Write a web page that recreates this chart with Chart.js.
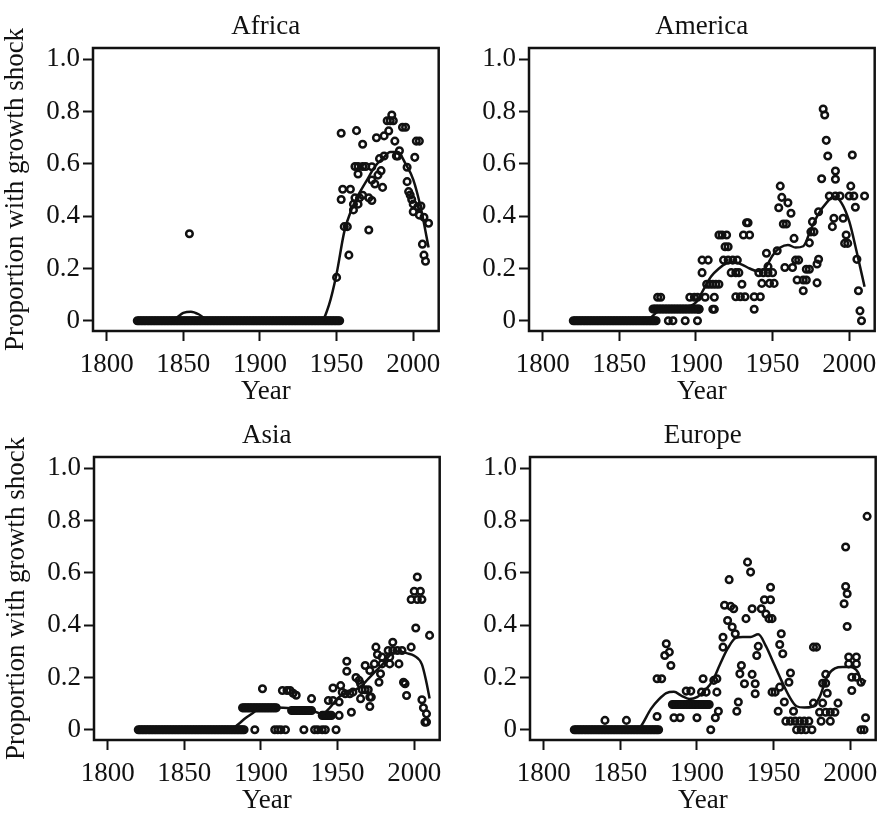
<!DOCTYPE html>
<html>
<head>
<meta charset="utf-8">
<script src="https://cdn.jsdelivr.net/npm/chart.js@4/dist/chart.umd.min.js"></script>
<style>
  html, body { margin: 0; padding: 0; background: #fff; }
  #wrap { position: relative; width: 885px; height: 813px; overflow: hidden; }
  .panel { position: absolute; }
</style>
</head>
<body>
<div id="wrap">
  <div class="panel" style="left:0;top:0"><canvas id="africaChart" width="449" height="408"></canvas></div>
  <div class="panel" style="left:436px;top:0"><canvas id="americaChart" width="449" height="408"></canvas></div>
  <div class="panel" style="left:1px;top:409px"><canvas id="asiaChart" width="449" height="408"></canvas></div>
  <div class="panel" style="left:437px;top:409px"><canvas id="europeChart" width="449" height="408"></canvas></div>
</div>
<script>
// Tick labels
const yearTicks = [1800, 1850, 1900, 1950, 2000];
const shareTicks = [0, 0.2, 0.4, 0.6, 0.8, 1.0];

// Africa: runs of identical yearly values [from, to, share], then single points
const africaRuns = [[1820, 1952, 0]];
const africaYears = [1854, 1950, 1953, 1963, 1967, 1976, 1981, 1984, 1986, 1983, 1985, 1987, 1988, 1993, 1995, 1991,
  2002, 2004, 2001, 1989, 1990, 1978, 1981, 1973, 1979, 1977, 1973, 1975, 1980, 1962, 1964, 1967, 1969, 1964,
  1954, 1959, 1953, 1962, 1965, 1967, 1971, 1973, 1961, 1964, 1961, 1971, 1955, 1957, 1958,
  1996, 1996, 1997, 1998, 1999, 2000, 2000, 2003, 2005, 2004, 2007, 2010, 2006, 2007, 2008];
const africaShares = [0.333, 0.166, 0.717, 0.727, 0.675, 0.70, 0.707, 0.726, 0.787, 0.765, 0.765, 0.765, 0.687, 0.74, 0.74, 0.65,
  0.687, 0.687, 0.625, 0.63, 0.63, 0.62, 0.63, 0.589, 0.574, 0.557, 0.538, 0.523, 0.51, 0.59, 0.59, 0.59, 0.59, 0.561,
  0.503, 0.503, 0.464, 0.47, 0.47, 0.48, 0.47, 0.46, 0.446, 0.446, 0.424, 0.347, 0.36, 0.36, 0.251,
  0.587, 0.532, 0.494, 0.481, 0.464, 0.446, 0.417, 0.436, 0.439, 0.404, 0.396, 0.373, 0.293, 0.251, 0.228];
const africaFitYears = [1820, 1840, 1845, 1850, 1855, 1860, 1865, 1870, 1940, 1945, 1950, 1955, 1960, 1965, 1970, 1975, 1980, 1985, 1990, 1995, 2000, 2005, 2010];
const africaFitShares = [0, 0, 0.01, 0.03, 0.035, 0.025, 0.005, 0, 0, 0.06, 0.18, 0.34, 0.43, 0.49, 0.54, 0.59, 0.62, 0.645, 0.645, 0.6, 0.54, 0.43, 0.28];

// America
const americaRuns = [[1820, 1874, 0], [1872, 1902, 0.045]];
const americaYears = [1875, 1877, 1882, 1885, 1893, 1901, 1896, 1899, 1901, 1902, 1911, 1912, 1938, 1906, 1912,
  1907, 1909, 1911, 1913, 1915, 1904, 1904, 1908, 1915, 1917, 1920, 1919, 1921, 1918, 1921, 1924, 1927,
  1923, 1926, 1928, 1930, 1926, 1929, 1932, 1938, 1942, 1931, 1935, 1933, 1934, 1941, 1944, 1947, 1950,
  1943, 1948, 1951, 1946, 1947, 1953, 1955, 1956, 1954, 1960, 1962, 1957, 1959, 1958, 1963, 1964, 1965, 1967,
  1966, 1970, 1972, 1970, 1972, 1974, 1974, 1975, 1977, 1976, 1980, 1979, 1979, 1980, 1983, 1984, 1985, 1986,
  1982, 1991, 1991, 1987, 1991, 1994, 1990, 1996, 1989, 1998, 1997, 1999, 2001, 2002, 2000, 2003, 2010,
  2004, 2005, 2006, 2007, 2008];
const americaShares = [0.09, 0.09, 0, 0, 0, 0, 0.09, 0.09, 0.09, 0.044, 0.044, 0.044, 0.044, 0.09, 0.09,
  0.14, 0.14, 0.14, 0.14, 0.14, 0.184, 0.232, 0.232, 0.328, 0.328, 0.328, 0.283, 0.283, 0.232, 0.232, 0.232, 0.232,
  0.184, 0.184, 0.184, 0.14, 0.092, 0.092, 0.092, 0.092, 0.092, 0.328, 0.328, 0.375, 0.375, 0.184, 0.184, 0.184, 0.184,
  0.143, 0.143, 0.143, 0.258, 0.207, 0.268, 0.515, 0.472, 0.432, 0.451, 0.411, 0.37, 0.37, 0.204, 0.204, 0.315, 0.232, 0.232,
  0.156, 0.156, 0.156, 0.115, 0.197, 0.197, 0.298, 0.34, 0.34, 0.379, 0.417, 0.217, 0.145, 0.235, 0.81, 0.787, 0.69, 0.63,
  0.543, 0.573, 0.541, 0.477, 0.477, 0.477, 0.392, 0.392, 0.36, 0.328, 0.296, 0.296, 0.515, 0.634, 0.477, 0.477, 0.477,
  0.434, 0.235, 0.115, 0.038, 0];
const americaFitYears = [1820, 1865, 1870, 1875, 1880, 1890, 1900, 1905, 1910, 1915, 1920, 1925, 1930, 1935, 1940, 1945, 1950, 1955, 1960, 1965, 1970, 1975, 1980, 1985, 1990, 1995, 2000, 2005, 2010];
const americaFitShares = [0, 0, 0.01, 0.035, 0.045, 0.05, 0.07, 0.12, 0.17, 0.2, 0.22, 0.225, 0.215, 0.2, 0.19, 0.2, 0.25, 0.28, 0.29, 0.28, 0.285, 0.35, 0.41, 0.45, 0.475, 0.45, 0.38, 0.26, 0.13];

// Asia
const asiaRuns = [[1820, 1889, 0], [1888, 1910, 0.084], [1920, 1933, 0.074], [1940, 1946, 0.055]];
const asiaYears = [1896, 1909, 1911, 1913, 1916, 1928, 1935, 1937, 1940, 1942, 1949, 1901, 1914, 1917, 1919, 1921, 1923,
  1933, 1944, 1947, 1947, 1952, 1953, 1955, 1958, 1960, 1951, 1951, 1956, 1956, 1959, 1962, 1964, 1965, 1965,
  1966, 1968, 1970, 1971, 1972, 1971, 1968, 1971, 1974, 1979, 1984, 1990, 1976, 1975, 1979, 1984, 1978, 1977,
  1983, 1986, 1989, 1992, 1986, 1998, 2002, 2000, 2004, 1998, 2002, 2005, 2001, 2010,
  2005, 2006, 2008, 2007, 2008, 1994, 1993, 1995];
const asiaShares = [0, 0, 0, 0, 0, 0, 0, 0, 0, 0, 0, 0.157, 0.15, 0.15, 0.15, 0.14, 0.132,
  0.119, 0.112, 0.112, 0.16, 0.169, 0.144, 0.138, 0.138, 0.144, 0.106, 0.055, 0.262, 0.224, 0.067, 0.2, 0.189, 0.176, 0.119,
  0.153, 0.153, 0.153, 0.125, 0.125, 0.089, 0.246, 0.227, 0.252, 0.252, 0.252, 0.252, 0.288, 0.316, 0.278, 0.278, 0.214, 0.182,
  0.303, 0.303, 0.303, 0.303, 0.335, 0.316, 0.584, 0.53, 0.53, 0.498, 0.498, 0.498, 0.389, 0.361,
  0.115, 0.084, 0.061, 0.029, 0.03, 0.176, 0.182, 0.131];
const asiaFitYears = [1820, 1880, 1885, 1890, 1895, 1900, 1910, 1920, 1930, 1935, 1940, 1945, 1950, 1955, 1960, 1965, 1970, 1975, 1980, 1985, 1990, 1995, 2000, 2005, 2008, 2010];
const asiaFitShares = [0, 0, 0.02, 0.045, 0.065, 0.085, 0.085, 0.082, 0.075, 0.07, 0.06, 0.085, 0.12, 0.14, 0.15, 0.165, 0.195, 0.225, 0.255, 0.29, 0.3, 0.293, 0.283, 0.25, 0.18, 0.12];

// Europe
const europeRuns = [[1820, 1875, 0], [1884, 1908, 0.097]];
const europeYears = [1840, 1854, 1874, 1874, 1877, 1880, 1879, 1882, 1883, 1885, 1889, 1900, 1893, 1896,
  1904, 1903, 1906, 1911, 1913, 1913, 1914, 1912, 1909, 1917, 1917, 1921, 1918, 1922, 1924, 1920, 1923, 1925,
  1929, 1928, 1931, 1927, 1926, 1933, 1935, 1932, 1936, 1942, 1944, 1948, 1948, 1945, 1947, 1949,
  1940, 1939, 1936, 1938, 1938, 1955, 1954, 1956, 1961, 1960, 1949, 1951, 1954, 1957, 1953, 1963,
  1958, 1961, 1964, 1967, 1970, 1973, 1965, 1968, 1971, 1975, 1976, 1976, 1978,
  1980, 1982, 1981, 1984, 1987, 1990, 1992, 1987, 1982, 1984, 1985, 1984,
  1997, 1997, 1998, 1996, 1998, 1999, 2004, 1999, 2004, 2001, 2004, 2007, 2001, 2010, 2007, 2009, 2011];
const europeShares = [0.036, 0.036, 0.051, 0.195, 0.195, 0.329, 0.284, 0.297, 0.246, 0.046, 0.046, 0.046, 0.148, 0.148,
  0.195, 0.144, 0.144, 0.189, 0.195, 0.144, 0.071, 0.046, 0, 0.354, 0.316, 0.574, 0.476, 0.472, 0.463, 0.418, 0.393, 0.367,
  0.246, 0.214, 0.176, 0.106, 0.071, 0.641, 0.603, 0.425, 0.463, 0.463, 0.497, 0.545, 0.497, 0.443, 0.425, 0.425,
  0.319, 0.284, 0.212, 0.176, 0.138, 0.367, 0.326, 0.291, 0.217, 0.182, 0.144, 0.144, 0.163, 0.106, 0.071, 0.071,
  0.033, 0.033, 0.033, 0.033, 0.033, 0.033, 0, 0, 0, 0, 0.102, 0.316, 0.316,
  0.067, 0.102, 0.033, 0.067, 0.067, 0.067, 0.102, 0.033, 0.178, 0.178, 0.14, 0.212,
  0.699, 0.548, 0.52, 0.482, 0.395, 0.278, 0.278, 0.252, 0.252, 0.201, 0.201, 0.182, 0.15, 0.046, 0, 0, 0.816];
const europeFitYears = [1820, 1860, 1863, 1870, 1875, 1880, 1885, 1890, 1895, 1900, 1905, 1910, 1915, 1920, 1925, 1930, 1935, 1940, 1945, 1950, 1955, 1960, 1965, 1970, 1975, 1980, 1985, 1990, 1995, 2000, 2005, 2008, 2010];
const europeFitShares = [0, 0, 0.01, 0.08, 0.115, 0.14, 0.145, 0.13, 0.118, 0.125, 0.15, 0.185, 0.25, 0.31, 0.35, 0.355, 0.355, 0.365, 0.32, 0.255, 0.19, 0.13, 0.09, 0.085, 0.088, 0.125, 0.205, 0.235, 0.24, 0.24, 0.22, 0.175, 0.19];

const INK = '#111';
const SERIF = '"Liberation Serif", "Times New Roman", serif';
const FONT_SIZE = 27;

document.addEventListener('DOMContentLoaded', function() {
    // caja alrededor del área del gráfico, como en R
    const plotBox = {
        id: 'plotBox',
        afterDatasetsDraw(chart) {
            const a = chart.chartArea;
            const ctx = chart.ctx;
            ctx.save();
            ctx.strokeStyle = INK;
            ctx.lineWidth = 2.5;
            ctx.strokeRect(a.left, a.top, a.right - a.left, a.bottom - a.top);
            ctx.restore();
        }
    };

    function toPoints(years, shares) {
        return years.map((y, i) => ({ x: y, y: shares[i] }));
    }

    function runPoints(runs) {
        const pts = [];
        runs.forEach(([from, to, share]) => {
            for (let y = from; y <= to; y++) pts.push({ x: y, y: share });
        });
        return pts;
    }

    function makePanel(id, title, showYTitle, runs, years, shares, fitYears, fitShares) {
        const ctx = document.getElementById(id).getContext('2d');
        new Chart(ctx, {
            type: 'scatter',
            data: {
                datasets: [
                    {
                        data: toPoints(fitYears, fitShares),
                        showLine: true,
                        borderColor: INK,
                        borderWidth: 2.5,
                        pointRadius: 0,
                        cubicInterpolationMode: 'monotone',
                        fill: false,
                        order: 0
                    },
                    {
                        data: runPoints(runs).concat(toPoints(years, shares)),
                        pointStyle: 'circle',
                        pointRadius: 3.3,
                        borderWidth: 2.5,
                        borderColor: INK,
                        backgroundColor: 'rgba(0,0,0,0)',
                        order: 1
                    }
                ]
            },
            options: {
                responsive: false,
                animation: false,
                events: [],
                layout: { autoPadding: false, padding: { left: 0, right: 1, top: 0, bottom: 0 } },
                plugins: {
                    legend: { display: false },
                    tooltip: { enabled: false },
                    title: {
                        display: true,
                        fullSize: false,
                        text: title,
                        color: INK,
                        font: { family: SERIF, size: FONT_SIZE, weight: 'normal' },
                        padding: { top: 11, bottom: 4.6 }
                    }
                },
                scales: {
                    x: {
                        type: 'linear',
                        min: 1791.1,
                        max: 2016.6,
                        afterBuildTicks: s => { s.ticks = yearTicks.map(v => ({ value: v })); },
                        afterFit: s => { s.height = 77; },
                        grid: { drawOnChartArea: false, tickLength: 10, tickWidth: 2, color: INK },
                        border: { display: false },
                        ticks: {
                            color: INK,
                            font: { family: SERIF, size: FONT_SIZE },
                            padding: 8,
                            maxRotation: 0,
                            autoSkip: false,
                            callback: v => String(v)
                        },
                        title: {
                            display: true,
                            text: 'Year',
                            color: INK,
                            font: { family: SERIF, size: FONT_SIZE },
                            padding: { top: 0, bottom: 0 }
                        }
                    },
                    y: {
                        min: -0.039,
                        max: 1.043,
                        afterBuildTicks: s => { s.ticks = shareTicks.map(v => ({ value: v })); },
                        afterFit: s => { s.width = 93; },
                        grid: { drawOnChartArea: false, tickLength: 10, tickWidth: 2, color: INK },
                        border: { display: false },
                        ticks: {
                            color: INK,
                            font: { family: SERIF, size: FONT_SIZE },
                            padding: 3,
                            autoSkip: false,
                            callback: v => v === 0 ? '0' : v.toFixed(1)
                        },
                        title: {
                            display: showYTitle,
                            text: 'Proportion with growth shock',
                            color: INK,
                            font: { family: SERIF, size: FONT_SIZE },
                            padding: { top: 0, bottom: 0 }
                        }
                    }
                }
            },
            plugins: [plotBox]
        });
    }

    makePanel('africaChart', 'Africa', true, africaRuns, africaYears, africaShares, africaFitYears, africaFitShares);
    makePanel('americaChart', 'America', false, americaRuns, americaYears, americaShares, americaFitYears, americaFitShares);
    makePanel('asiaChart', 'Asia', true, asiaRuns, asiaYears, asiaShares, asiaFitYears, asiaFitShares);
    makePanel('europeChart', 'Europe', false, europeRuns, europeYears, europeShares, europeFitYears, europeFitShares);
});
</script>
</body>
</html>
